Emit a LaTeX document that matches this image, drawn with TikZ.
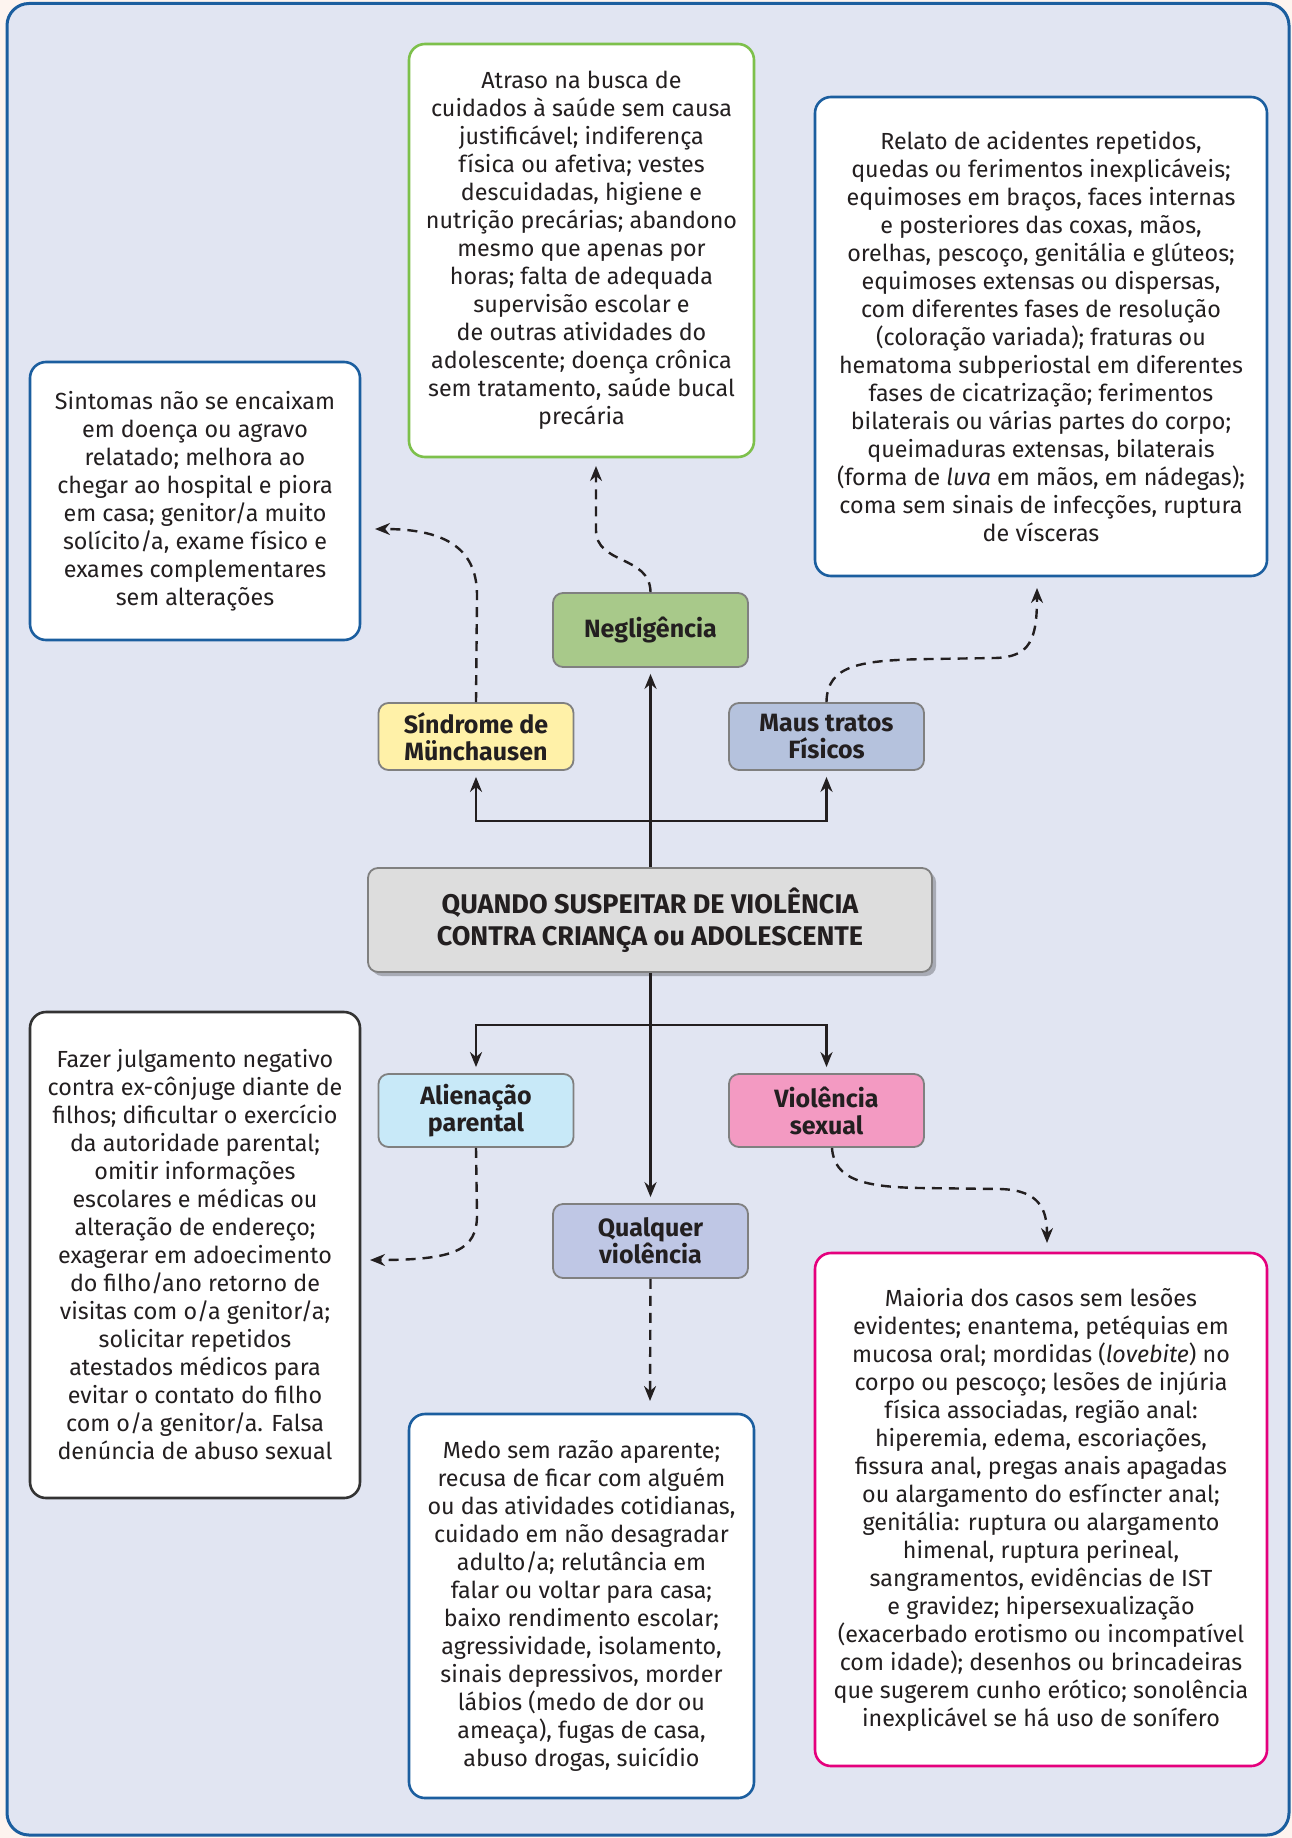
\documentclass[tikz,border=0pt]{standalone}
\usepackage{fontspec}
\setmainfont{Fira Sans}
\usetikzlibrary{arrows.meta,shadows}
\definecolor{pagebg}{HTML}{FDF4EF}
\definecolor{framefill}{HTML}{E1E5F2}
\definecolor{frameblue}{HTML}{1B5E9F}
\definecolor{greenb}{HTML}{7DC04B}
\definecolor{darkb}{HTML}{333333}
\definecolor{magb}{HTML}{E5007D}
\definecolor{negfill}{HTML}{A8C98A}
\definecolor{sindfill}{HTML}{FFF1A8}
\definecolor{mausfill}{HTML}{B5C2DD}
\definecolor{centfill}{HTML}{DDDDDD}
\definecolor{alienfill}{HTML}{C8E9F8}
\definecolor{violfill}{HTML}{F39AC2}
\definecolor{qualfill}{HTML}{BFC7E5}
\definecolor{lblborder}{HTML}{808080}
\definecolor{txt}{HTML}{231F20}
\newcommand\infofnt{\fontsize{23.3}{28}\selectfont}
\newcommand\lblfnt{\bfseries\fontsize{25}{27}\selectfont}
\newcommand\centfnt{\bfseries\fontsize{27}{32}\selectfont}
\tikzset{
  lbl/.style={draw=lblborder, line width=1.8pt, rounded corners=10pt,
    minimum width=195pt, minimum height=67pt, inner sep=0pt, align=center,
    font=\lblfnt, text=txt},
  info/.style={line width=2.6pt, rounded corners=16pt, fill=white,
    inner sep=0pt, align=center, font=\infofnt, text=txt},
  conn/.style={line width=2.8pt, draw=txt, shorten >=6pt,
    -{Stealth[length=15pt,width=12pt]}},
  dconn/.style={line width=2.4pt, draw=txt, dash pattern=on 10pt off 7pt,
    -{Stealth[length=15pt,width=12pt]}},
}
\begin{document}
\begin{tikzpicture}[x=1pt,y=-1pt]
\fill[pagebg] (0,0) rectangle (1292,1838);
\useasboundingbox (0,0) rectangle (1292,1838);
\draw[frameblue, fill=framefill, line width=3pt, rounded corners=22pt] (7,3.5) rectangle (1289,1835);

% info boxes
\node[info, draw=greenb, minimum width=345pt, minimum height=413pt] (neginfo) at (581.5,250.5) {Atraso na busca de\\cuidados à saúde sem causa\\justificável; indiferença\\física ou afetiva; vestes\\descuidadas, higiene e\\nutrição precárias; abandono\\mesmo que apenas por\\horas; falta de adequada\\supervisão escolar e\\de outras atividades do\\adolescente; doença crônica\\sem tratamento, saúde bucal\\precária};
\node[info, draw=frameblue, minimum width=452pt, minimum height=479pt] (relato) at (1041,336.5) {Relato de acidentes repetidos,\\quedas ou ferimentos inexplicáveis;\\equimoses em braços, faces internas\\e posteriores das coxas, mãos,\\orelhas, pescoço, genitália e glúteos;\\equimoses extensas ou dispersas,\\com diferentes fases de resolução\\(coloração variada); fraturas ou\\hematoma subperiostal em diferentes\\fases de cicatrização; ferimentos\\bilaterais ou várias partes do corpo;\\queimaduras extensas, bilaterais\\(forma de \textit{luva} em mãos, em nádegas);\\coma sem sinais de infecções, ruptura\\de vísceras};
\node[info, draw=frameblue, minimum width=330pt, minimum height=278pt] (sintomas) at (195,501) {Sintomas não se encaixam\\em doença ou agravo\\relatado; melhora ao\\chegar ao hospital e piora\\em casa; genitor/a muito\\solícito/a, exame físico e\\exames complementares\\sem alterações};
\node[info, draw=darkb, minimum width=330pt, minimum height=486pt] (fazer) at (195,1255) {Fazer julgamento negativo\\contra ex-cônjuge diante de\\filhos; dificultar o exercício\\da autoridade parental;\\omitir informações\\escolares e médicas ou\\alteração de endereço;\\exagerar em adoecimento\\do filho/ano retorno de\\visitas com o/a genitor/a;\\solicitar repetidos\\atestados médicos para\\evitar o contato do filho\\com o/a genitor/a. Falsa\\denúncia de abuso sexual};
\node[info, draw=frameblue, minimum width=345pt, minimum height=384pt] (medo) at (581.5,1606) {Medo sem razão aparente;\\recusa de ficar com alguém\\ou das atividades cotidianas,\\cuidado em não desagradar\\adulto/a; relutância em\\falar ou voltar para casa;\\baixo rendimento escolar;\\agressividade, isolamento,\\sinais depressivos, morder\\lábios (medo de dor ou\\ameaça), fugas de casa,\\abuso drogas, suicídio};
\node[info, draw=magb, minimum width=452pt, minimum height=513pt] (maioria) at (1041,1509.5) {Maioria dos casos sem lesões\\evidentes; enantema, petéquias em\\mucosa oral; mordidas (\textit{lovebite}) no\\corpo ou pescoço; lesões de injúria\\física associadas, região anal:\\hiperemia, edema, escoriações,\\fissura anal, pregas anais apagadas\\ou alargamento do esfíncter anal;\\genitália: ruptura ou alargamento\\himenal, ruptura perineal,\\sangramentos, evidências de IST\\e gravidez; hipersexualização\\(exacerbado erotismo ou incompatível\\com idade); desenhos ou brincadeiras\\que sugerem cunho erótico; sonolência\\inexplicável se há uso de sonífero};

% label nodes
\node[lbl, fill=negfill, minimum height=74pt] (negl) at (650.5,630) {Negligência};
\node[lbl, fill=sindfill] (sind) at (476,736.5) {Síndrome de\\Münchausen};
\node[lbl, fill=mausfill] (maus) at (826.5,736.5) {Maus tratos\\Físicos};
\node[lbl, fill=alienfill, minimum height=73pt] (alien) at (476,1110.5) {Alienação\\parental};
\node[lbl, fill=violfill, minimum height=73pt] (viol) at (826.5,1110.5) {Violência\\sexual};
\node[lbl, fill=qualfill, minimum height=74pt] (qual) at (650.5,1241) {Qualquer\\violência};
\node[draw=lblborder, line width=1.8pt, rounded corners=10pt, fill=centfill,
  minimum width=564pt, minimum height=104pt, inner sep=0pt, align=center,
  font=\centfnt, text=txt,
  drop shadow={shadow xshift=4pt, shadow yshift=-4pt, fill=black, opacity=0.25}]
  (central) at (650,920) {QUANDO SUSPEITAR DE VIOLÊNCIA\\CONTRA CRIANÇA ou ADOLESCENTE};

% solid connectors
\coordinate (tb) at (650,821);
\coordinate (bb) at (650,1025);
\draw[conn] (central.north -| negl) -- (negl.south);
\draw[conn] (tb) -| (sind.south);
\draw[conn] (tb) -| (maus.south);
\draw[conn] (central.south -| qual) -- (qual.north);
\draw[conn] (bb) -| (alien.north);
\draw[conn] (bb) -| (viol.north);

% dashed connectors
\coordinate (e1) at (596,466);
\coordinate (e2) at (375,529);
\coordinate (e3) at (1037,588);
\coordinate (e4) at (370,1260);
\coordinate (e5) at (1047,1243);
\coordinate (e6) at (650,1401);
\draw[dconn] (negl.north) .. controls (650,555) and (596,565) .. (596,530) -- (e1);
\draw[dconn] (sind.north) -- (477,595) .. controls (477,545) and (440,529) .. (e2);
\draw[dconn] (maus.north) .. controls (827,665) and (860,660) .. (930,659) -- (995,658) .. controls (1030,657) and (1037,640) .. (e3);
\draw[dconn] (alien.south) -- (477,1215) .. controls (477,1250) and (455,1260) .. (e4);
\draw[dconn] (viol.south -| 832,0) .. controls (834,1180) and (865,1187) .. (920,1188) -- (1000,1189) .. controls (1040,1190) and (1047,1210) .. (e5);
\draw[dconn] (qual.south) -- (e6);
\end{tikzpicture}
\end{document}
